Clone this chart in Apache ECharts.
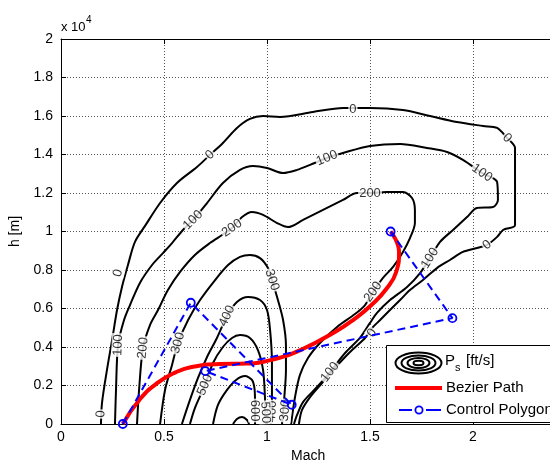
<!DOCTYPE html>
<html>
<head>
<meta charset="utf-8">
<title>Ps contours and Bezier path</title>
<script src="https://cdn.jsdelivr.net/npm/echarts@6/dist/echarts.min.js"></script>
<style>
html, body { margin: 0; padding: 0; background: #fff; }
#chart { width: 550px; height: 463px; }
</style>
</head>
<body>
<div id="chart"></div>
<script>
// Ps [ft/s] contour lines, points are [Mach, h (m)]
var ps0 = [[0.194,0],[0.199,1090],[0.223,2800],[0.248,4360],[0.272,5920],[0.296,7120],[0.325,8260],[0.359,9460],[0.408,10290],[0.481,11480],[0.563,12520],[0.660,13350],[0.723,13980],[0.786,14600],[0.854,15380],[0.917,15850],[0.981,16000],[1.063,15950],[1.223,16210],[1.369,16420],[1.500,16420],[1.660,16310],[1.791,16000],[1.922,15690],[2.049,15480],[2.117,15380],[2.165,14860],[2.204,14340],[2.204,10340],[2.146,10080],[2.117,9720],[2.068,9300],[2.019,9140],[1.951,8940],[1.888,8520],[1.825,8100],[1.757,7480],[1.694,6960],[1.646,6440],[1.597,5920],[1.549,5400],[1.515,5040],[1.476,4470],[1.403,3740],[1.330,2910],[1.267,2130],[1.209,1400],[1.170,730],[1.155,0]];
var ps100 = [[0.262,0],[0.267,1770],[0.277,4100],[0.306,5400],[0.335,6180],[0.383,7330],[0.442,8260],[0.495,8880],[0.539,9400],[0.592,10080],[0.641,10600],[0.709,11480],[0.786,12520],[0.869,13200],[0.932,13400],[1.000,13300],[1.078,13040],[1.146,13200],[1.209,13460],[1.291,13820],[1.369,14080],[1.500,14440],[1.646,14550],[1.777,14340],[1.874,14130],[1.951,13720],[2.044,13040],[2.117,12570],[2.121,11640],[2.097,11270],[2.019,11220],[1.971,10750],[1.903,10080],[1.840,9460],[1.791,8620],[1.743,7840],[1.680,7120],[1.597,6440],[1.534,5770],[1.500,5250],[1.451,4470],[1.379,3690],[1.306,2700],[1.243,1920],[1.175,1140],[1.146,470],[1.131,0]];
var ps200 = [[0.369,0],[0.379,1770],[0.398,3950],[0.432,5140],[0.471,5920],[0.519,6960],[0.578,7900],[0.650,8780],[0.723,9400],[0.782,9820],[0.830,10180],[0.879,10750],[0.927,11010],[0.981,10860],[1.049,10440],[1.102,10230],[1.175,10600],[1.272,11120],[1.369,11640],[1.437,12000],[1.500,12000],[1.583,12050],[1.660,12050],[1.704,11740],[1.718,11120],[1.718,10440],[1.694,9660],[1.660,8940],[1.612,8160],[1.563,7590],[1.515,6860],[1.476,6180],[1.427,5710],[1.340,5040],[1.257,4210],[1.199,3430],[1.160,2550],[1.136,1400],[1.117,0]];
var ps300 = [[0.481,0],[0.505,1770],[0.539,3070],[0.568,4210],[0.617,5400],[0.675,6440],[0.748,7480],[0.811,8260],[0.869,8680],[0.917,8780],[0.966,8620],[1.005,8100],[1.024,7480],[1.053,6440],[1.078,5400],[1.092,4100],[1.092,2800],[1.083,1250],[1.073,0]];
var ps400 = [[0.587,0],[0.626,1250],[0.665,2390],[0.709,3480],[0.757,4470],[0.806,5610],[0.854,6340],[0.908,6600],[0.966,6440],[1.000,5920],[1.015,4880],[1.024,3170],[1.024,1400],[1.019,0]];
var ps500 = [[0.626,0],[0.650,830],[0.699,2030],[0.738,3170],[0.786,4000],[0.830,4470],[0.869,4620],[0.917,4470],[0.956,3840],[0.981,2800],[0.990,1400],[0.995,0]];
var ps600 = [[0.738,0],[0.762,990],[0.806,1770],[0.850,2290],[0.893,2490],[0.927,2290],[0.940,1770],[0.942,990],[0.942,0]];
var ps700 = [[0.835,0],[0.854,260],[0.879,360],[0.903,210],[0.913,0]];

// where the inline contour labels sit
var labels0 = [[0.194,520],[0.277,7840],[0.723,13980],[1.417,16330],[2.165,14860],[2.068,9300],[1.510,4730]];
var labels100 = [[0.277,4100],[0.641,10600],[1.291,13820],[2.044,13040],[1.791,8620],[1.306,2700]];
var labels200 = [[0.398,3950],[0.830,10180],[1.500,12000],[1.515,6860]];
var labels300 = [[0.568,4210],[1.024,7480],[1.088,700]];
var labels400 = [[0.806,5610],[1.024,650]];
var labels500 = [[0.699,2030],[0.992,600]];
var labels600 = [[0.940,700]];

// flight path and its control points
var bezierPath = [[0.300,0],[0.385,1310],[0.472,2160],[0.556,2680],[0.634,2960],[0.773,3120],[0.897,3140],[1.023,3330],[1.168,3870],[1.336,4820],[1.424,5450],[1.507,6180],[1.579,7010],[1.628,7920],[1.641,8920],[1.600,10000]];
var controlPolygon = [[0.30,0],[0.63,6300],[1.12,1000],[0.70,2750],[1.90,5500],[1.60,10000]];

var contours = [
	{ level: '0', line: ps0, marks: labels0 },
	{ level: '100', line: ps100, marks: labels100 },
	{ level: '200', line: ps200, marks: labels200 },
	{ level: '300', line: ps300, marks: labels300 },
	{ level: '400', line: ps400, marks: labels400 },
	{ level: '500', line: ps500, marks: labels500 },
	{ level: '600', line: ps600, marks: labels600 },
	{ level: '700', line: ps700, marks: [] }
];

var font = '"Liberation Sans", Arial, Helvetica, sans-serif';

var series = [];
contours.forEach(function (c) {
	series.push({
		type: 'line',
		name: 'Ps',
		data: c.line,
		symbol: 'none',
		smooth: 0.3,
		silent: true,
		z: 2,
		lineStyle: { color: '#000', width: 2 }
	});
});

function labelItems(angles) {
	var items = [];
	var k = 0;
	contours.forEach(function (c) {
		c.marks.forEach(function (m) {
			items.push({
				name: c.level,
				value: m,
				label: { rotate: angles ? angles[k] : 0 }
			});
			k++;
		});
	});
	return items;
}

series.push({
	id: 'labels',
	type: 'scatter',
	data: labelItems(null),
	symbolSize: 1,
	silent: true,
	z: 3,
	itemStyle: { color: 'transparent' },
	label: {
		show: true,
		position: 'inside',
		formatter: '{b}',
		color: '#000',
		fontSize: 13,
		fontFamily: font,
		backgroundColor: '#fff',
		padding: [0, 1]
	}
});

series.push({
	type: 'line',
	name: 'Bezier Path',
	data: bezierPath,
	symbol: 'none',
	smooth: true,
	z: 4,
	lineStyle: { color: '#ff0000', width: 4 }
});

series.push({
	type: 'line',
	name: 'Control Polygon',
	data: controlPolygon,
	symbol: 'circle',
	symbolSize: 8,
	showSymbol: true,
	clip: false,
	z: 5,
	itemStyle: { color: 'transparent', borderColor: '#0000ff', borderWidth: 1.8 },
	lineStyle: { color: '#0000ff', width: 2, type: [8, 5] }
});

var axisText = { color: '#000', fontSize: 14, fontFamily: font };
var dotted = { color: '#555', width: 1, type: [1, 2] };

var option = {
	animation: false,
	backgroundColor: '#fff',
	grid: { left: 61, top: 39, width: 494.4, height: 385, outerBoundsMode: 'none' },
	xAxis: [{
		type: 'value',
		min: 0,
		max: 2.4,
		interval: 0.5,
		name: 'Mach',
		nameLocation: 'middle',
		nameGap: 24,
		nameTextStyle: axisText,
		axisLine: { onZero: false, lineStyle: { color: '#000', width: 1 } },
		axisTick: { inside: true, length: 5, lineStyle: { color: '#000' } },
		axisLabel: { margin: 6, showMaxLabel: false, color: '#000', fontSize: 14, fontFamily: font },
		splitLine: { show: true, lineStyle: dotted }
	}, {
		type: 'value',
		position: 'top',
		min: 0,
		max: 2.4,
		interval: 0.5,
		axisLine: { onZero: false, lineStyle: { color: '#000', width: 1 } },
		axisTick: { inside: true, length: 5, lineStyle: { color: '#000' } },
		axisLabel: { show: false },
		splitLine: { show: false }
	}],
	yAxis: {
		type: 'value',
		min: 0,
		max: 20000,
		interval: 2000,
		name: 'h [m]',
		nameLocation: 'middle',
		nameGap: 33,
		nameRotate: 90,
		nameTextStyle: axisText,
		axisLine: { show: true, onZero: false, lineStyle: { color: '#000', width: 1 } },
		axisTick: { show: true, inside: true, length: 5, lineStyle: { color: '#000' } },
		axisLabel: {
			margin: 8, color: '#000', fontSize: 14, fontFamily: font,
			formatter: function (v) { return String(v / 10000); }
		},
		splitLine: { show: true, lineStyle: dotted }
	},
	graphic: [
		{ type: 'text', style: { text: 'x 10', x: 61, y: 27, font: '13px ' + font, fill: '#000', textVerticalAlign: 'middle', verticalAlign: 'middle' } },
		{ type: 'text', style: { text: '4', x: 86, y: 20, font: '10px ' + font, fill: '#000', textVerticalAlign: 'middle', verticalAlign: 'middle' } },
		// legend box
		{ type: 'rect', z: 100, shape: { x: 386.5, y: 345.5, width: 200, height: 77 }, style: { fill: '#fff', stroke: '#000', lineWidth: 1 } },
		{ type: 'ellipse', z: 101, shape: { cx: 418.5, cy: 363, rx: 23, ry: 10.5 }, style: { fill: 'none', stroke: '#000', lineWidth: 2 } },
		{ type: 'ellipse', z: 101, shape: { cx: 418.5, cy: 363, rx: 17, ry: 7.5 }, style: { fill: 'none', stroke: '#000', lineWidth: 2 } },
		{ type: 'ellipse', z: 101, shape: { cx: 418.5, cy: 363, rx: 11, ry: 5 }, style: { fill: 'none', stroke: '#000', lineWidth: 2 } },
		{ type: 'ellipse', z: 101, shape: { cx: 418.5, cy: 363, rx: 5, ry: 2.2 }, style: { fill: 'none', stroke: '#000', lineWidth: 2 } },
		{ type: 'text', z: 101, style: { text: 'P', x: 445, y: 361, font: '15px ' + font, fill: '#000', textVerticalAlign: 'middle', verticalAlign: 'middle' } },
		{ type: 'text', z: 101, style: { text: 's', x: 455, y: 368, font: '11px ' + font, fill: '#000', textVerticalAlign: 'middle', verticalAlign: 'middle' } },
		{ type: 'text', z: 101, style: { text: '[ft/s]', x: 466, y: 361, font: '15px ' + font, fill: '#000', textVerticalAlign: 'middle', verticalAlign: 'middle' } },
		{ type: 'line', z: 101, shape: { x1: 395, y1: 388, x2: 442, y2: 388 }, style: { stroke: '#ff0000', lineWidth: 4 } },
		{ type: 'text', z: 101, style: { text: 'Bezier Path', x: 446, y: 388, font: '15px ' + font, fill: '#000', textVerticalAlign: 'middle', verticalAlign: 'middle' } },
		{ type: 'line', z: 101, shape: { x1: 399, y1: 410, x2: 412, y2: 410 }, style: { stroke: '#0000ff', lineWidth: 2 } },
		{ type: 'line', z: 101, shape: { x1: 426, y1: 410, x2: 441, y2: 410 }, style: { stroke: '#0000ff', lineWidth: 2 } },
		{ type: 'circle', z: 101, shape: { cx: 419, cy: 410, r: 3.6 }, style: { fill: 'none', stroke: '#0000ff', lineWidth: 1.8 } },
		{ type: 'text', z: 101, style: { text: 'Control Polygon', x: 446, y: 410, font: '15px ' + font, fill: '#000', textVerticalAlign: 'middle', verticalAlign: 'middle' } }
	],
	series: series
};

var chart = echarts.init(document.getElementById('chart'));
chart.setOption(option);

// turn each inline label along its contour
function segDist(p, a, b) {
	var dx = b[0] - a[0], dy = b[1] - a[1];
	var len2 = dx * dx + dy * dy;
	var t = len2 ? ((p[0] - a[0]) * dx + (p[1] - a[1]) * dy) / len2 : 0;
	t = Math.max(0, Math.min(1, t));
	var qx = a[0] + t * dx - p[0], qy = a[1] + t * dy - p[1];
	return qx * qx + qy * qy;
}
var angles = [];
contours.forEach(function (c) {
	var px = c.line.map(function (p) { return chart.convertToPixel({ gridIndex: 0 }, p); });
	c.marks.forEach(function (m) {
		var p = chart.convertToPixel({ gridIndex: 0 }, m);
		var best = 1e12, ang = 0;
		for (var i = 0; i < px.length - 1; i++) {
			var d = segDist(p, px[i], px[i + 1]);
			if (d < best) {
				best = d;
				ang = Math.atan2(-(px[i + 1][1] - px[i][1]), px[i + 1][0] - px[i][0]) * 180 / Math.PI;
			}
		}
		if (ang >= 90) ang -= 180;
		if (ang < -90) ang += 180;
		angles.push(ang);
	});
});
chart.setOption({ series: [{ id: 'labels', data: labelItems(angles) }] });
</script>
</body>
</html>
